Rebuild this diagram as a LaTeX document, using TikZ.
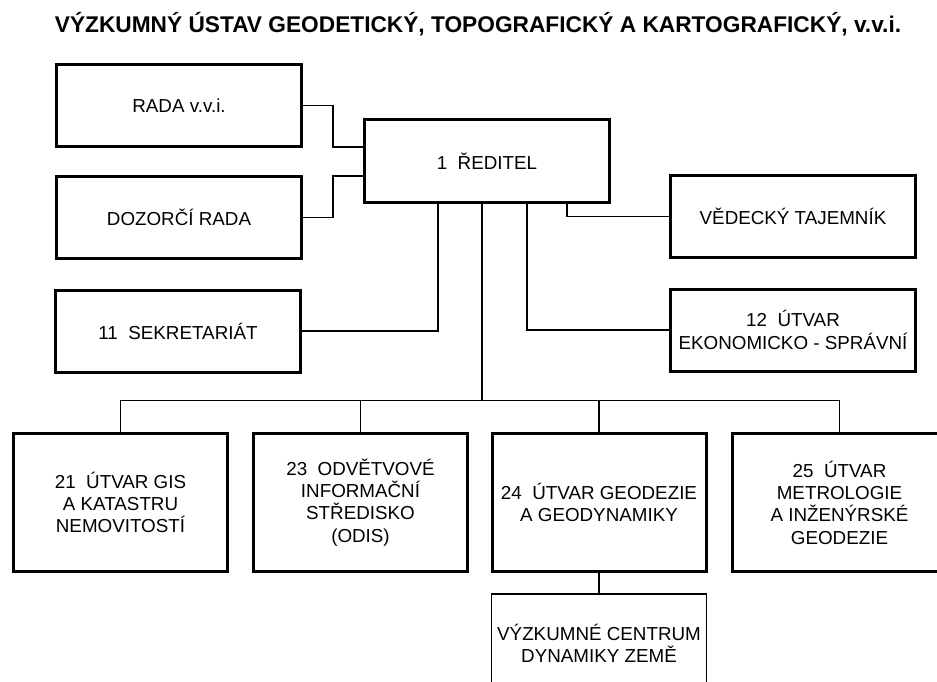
\documentclass[tikz,border=0pt]{standalone}
\usepackage{fontspec}
\setmainfont{Liberation Sans}
\usetikzlibrary{positioning}

\begin{document}
\begin{tikzpicture}[x=1pt, y=-1pt,
        box/.style={draw, line width=3pt, align=center, inner sep=0pt,
            minimum width=245pt, minimum height=82pt,
            font=\fontsize{18.8}{22.3}\selectfont},
        unit/.style={box, minimum width=214pt, minimum height=138pt},
        link/.style={line width=1.4pt},
        bus/.style={line width=1pt},
        ]
        \useasboundingbox (0,0) rectangle (937,682);
        \clip (0,0) rectangle (937,682);

        % nadpis
        \node[anchor=base, font=\bfseries\fontsize{22.7}{26}\selectfont] (title) at (478,33)
            {VÝZKUMNÝ ÚSTAV GEODETICKÝ, TOPOGRAFICKÝ A KARTOGRAFICKÝ, v.v.i.};

        % horni uroven
        \node[box, text depth=-8pt] (reditel) at (487,161) {1~~ŘEDITEL};
        \node[box] (rada) at (179,105.5) {RADA v.v.i.};
        \node[box] (dozor) at (179,217.5) {DOZORČÍ RADA};
        \node[box] (sekr) at (178,331) {11~~SEKRETARIÁT};
        \node[box] (vedtaj) at (793,216.5) {VĚDECKÝ TAJEMNÍK};
        \node[box] (ekon) at (793,330) {12~~ÚTVAR\\EKONOMICKO - SPRÁVNÍ};

        % utvary
        \node[unit] (gis) at (120.5,502.5) {21~~ÚTVAR GIS\\A KATASTRU\\NEMOVITOSTÍ};
        \node[unit] (odis) at (360.5,502.5) {23~~ODVĚTVOVÉ\\INFORMAČNÍ\\STŘEDISKO\\(ODIS)};
        \node[unit] (geod) at (599,502.5) {24~~ÚTVAR GEODEZIE\\A GEODYNAMIKY};
        \node[unit] (metro) at (839.5,502.5) {25~~ÚTVAR\\METROLOGIE\\A INŽENÝRSKÉ\\GEODEZIE};
        \node[box, line width=1.3pt, minimum width=215pt, minimum height=98pt] (centrum) at (599,643)
            {VÝZKUMNÉ CENTRUM\\DYNAMIKY ZEMĚ};

        \coordinate (bus) at (482,400);

        \draw[link] (rada.east) -- ++(30,0) |- ([yshift=14pt]reditel.west);
        \draw[link] (dozor.east) -- ++(30,0) |- ([yshift=-15pt]reditel.west);
        \draw[link] (sekr.east) -| ([xshift=-49pt]reditel.south);
        \draw[link] ([xshift=80pt]reditel.south) |- (vedtaj.west);
        \draw[link] ([xshift=40pt]reditel.south) |- (ekon.west);
        \draw[link] ([xshift=-5pt]reditel.south) -- (bus);

        \draw[bus] (gis.north |- bus) -- (metro.north |- bus);
        \foreach \u in {gis,odis,geod,metro}
            \draw[link] (\u.north |- bus) -- (\u.north);
        \draw[link] (geod.south) -- ([yshift=-0.5pt]geod.south |- centrum.north);

        \end{tikzpicture}
\end{document}
